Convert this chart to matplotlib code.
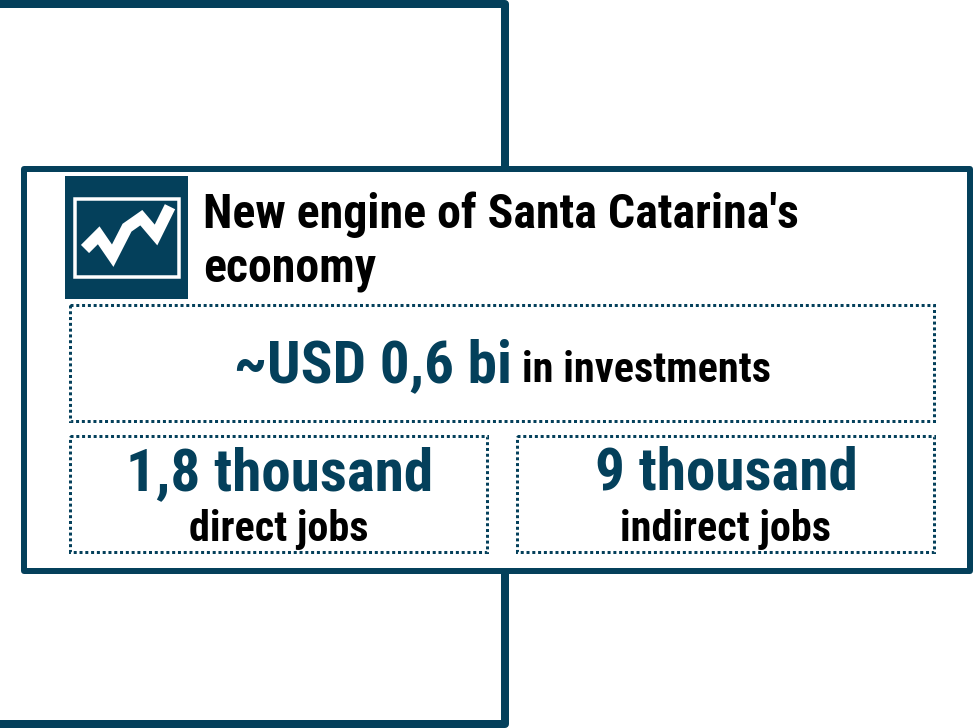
import matplotlib
matplotlib.use('Agg')
import matplotlib.pyplot as plt
from matplotlib.patches import Rectangle

DARK = '#04405b'

# outline, in pixels of the reference
frame_x = [0, 505.3, 505.3]
frame_top_y = [4, 4, 168]
frame_bot_y = [724, 724, 572]
zigzag_x = [85, 98.7, 112.7, 127, 141.3, 156, 170]
zigzag_y = [249, 235.3, 255.7, 227.7, 217.7, 235, 206.7]

title_lines = ["New engine of Santa Catarina's", "economy"]
big_text = ['~USD 0,6 bi', '1,8 thousand', '9 thousand']
small_text = ['in investments', 'direct jobs', 'indirect jobs']

plt.rcParams['font.family'] = ['Roboto Condensed', 'Liberation Sans', 'DejaVu Sans']

fig = plt.figure(figsize=(9.73, 7.28), dpi=100)
ax = fig.add_axes([0, 0, 1, 1])
ax.set_xlim(0, 973)
ax.set_ylim(728, 0)
ax.axis('off')

px = 0.72  # pixel to points

# connector lines behind the box
ax.plot(frame_x, frame_top_y, color=DARK, lw=8*px, solid_joinstyle='round', solid_capstyle='butt')
ax.plot(frame_x, frame_bot_y, color=DARK, lw=8*px, solid_joinstyle='round', solid_capstyle='butt')

# main box
ax.add_patch(Rectangle((23.7, 169), 946.6, 402.3, fc='white', ec=DARK, lw=6*px, joinstyle='round'))

# icon
ax.add_patch(Rectangle((65, 176), 123, 123, fc=DARK, ec='none'))
ax.add_patch(Rectangle((75, 198.5), 103.5, 78, fc='none', ec='white', lw=3.5*px, joinstyle='miter'))
ax.plot(zigzag_x, zigzag_y, color='white', lw=11.5*px, solid_joinstyle='miter', solid_capstyle='butt')

# dotted boxes
for x, y, w, h in [(70.2, 305, 864, 115.7), (70.2, 435.7, 417, 116), (516.8, 435.7, 417.5, 116)]:
    ax.add_patch(Rectangle((x, y), w, h, fc='none', ec=DARK, lw=3*px, linestyle=(0, (1, 0.93)), capstyle='butt'))

# title
ax.text(203, 228, title_lines[0], fontsize=34.5, fontweight='bold', color='black', va='baseline', ha='left')
ax.text(203, 282, title_lines[1], fontsize=34.5, fontweight='bold', color='black', va='baseline', ha='left')

# numbers
ax.text(234, 382, big_text[0], fontsize=42.6, fontweight='bold', color=DARK, va='baseline', ha='left')
ax.text(522, 382, small_text[0], fontsize=30.4, fontweight='bold', color='black', va='baseline', ha='left')
ax.text(280, 490, big_text[1], fontsize=42.6, fontweight='bold', color=DARK, va='baseline', ha='center')
ax.text(726, 490, big_text[2], fontsize=42.6, fontweight='bold', color=DARK, va='baseline', ha='center')
ax.text(279, 540.5, small_text[1], fontsize=30.4, fontweight='bold', color='black', va='baseline', ha='center')
ax.text(726, 540.5, small_text[2], fontsize=30.4, fontweight='bold', color='black', va='baseline', ha='center')

fig.savefig('out.png', dpi=100)
